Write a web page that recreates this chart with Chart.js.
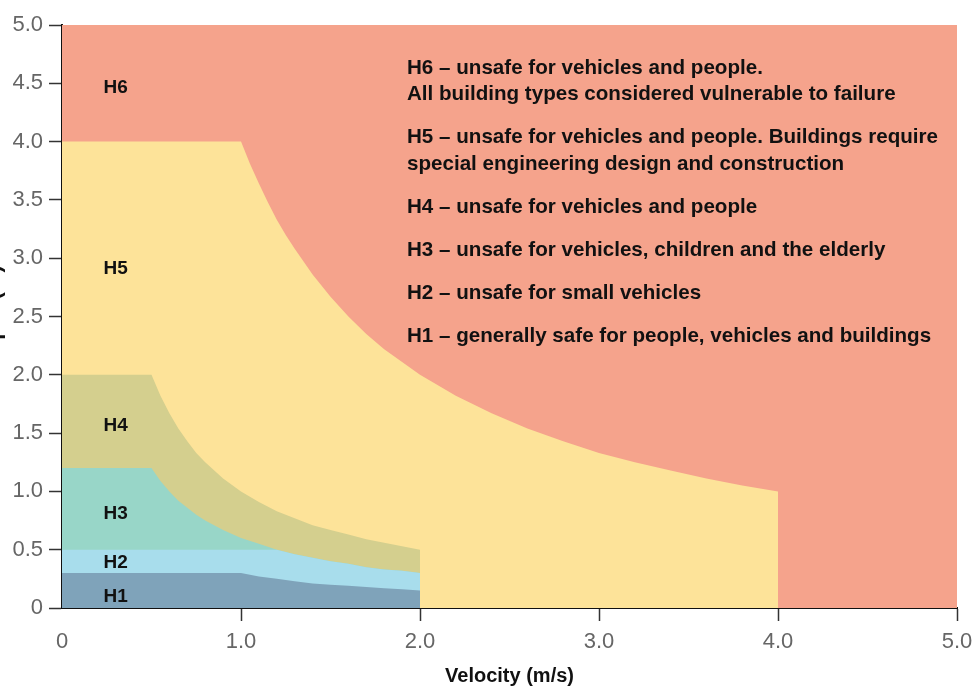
<!DOCTYPE html>
<html>
<head>
<meta charset="utf-8">
<script src="https://cdn.jsdelivr.net/npm/chart.js@4/dist/chart.umd.min.js"></script>
<style>
  html, body { margin: 0; padding: 0; background: #fff; overflow: hidden; }
  #wrap { position: absolute; left: -19px; top: 0; width: 993px; height: 690px; }
</style>
</head>
<body>
<div id="wrap"><canvas id="chart"></canvas></div>
<script>
// hazard zone boundaries (velocity m/s -> depth m)
const h1Velocity = [0, 1.0, 1.1, 1.2, 1.3, 1.4, 1.5, 1.6, 1.7, 1.8, 1.9, 2.0, 2.0];
const h1Depth = [0.3, 0.3, 0.27, 0.25, 0.23, 0.21, 0.2, 0.19, 0.18, 0.17, 0.16, 0.15, 0];

const h2Velocity = [0, 1.2, 1.3, 1.4, 1.5, 1.6, 1.7, 1.8, 1.9, 2.0, 2.0];
const h2Depth = [0.5, 0.5, 0.46, 0.43, 0.4, 0.38, 0.35, 0.33, 0.32, 0.3, 0];

const h3Velocity = [0, 0.5, 0.55, 0.6, 0.65, 0.7, 0.75, 0.8, 0.9, 1.0, 1.1, 1.2, 1.3, 1.4, 1.5, 1.6, 1.7, 1.8, 1.9, 2.0, 2.0];
const h3Depth = [1.2, 1.2, 1.09, 1.0, 0.92, 0.86, 0.8, 0.75, 0.67, 0.6, 0.55, 0.5, 0.46, 0.43, 0.4, 0.38, 0.35, 0.33, 0.32, 0.3, 0];

const h4Velocity = [0, 0.5, 0.55, 0.6, 0.65, 0.7, 0.75, 0.8, 0.9, 1.0, 1.1, 1.2, 1.3, 1.4, 1.5, 1.6, 1.7, 1.8, 1.9, 2.0, 2.0];
const h4Depth = [2.0, 2.0, 1.82, 1.67, 1.54, 1.43, 1.33, 1.25, 1.11, 1.0, 0.91, 0.83, 0.77, 0.71, 0.67, 0.63, 0.59, 0.56, 0.53, 0.5, 0];

const h5Velocity = [0, 1.0, 1.05, 1.1, 1.15, 1.2, 1.25, 1.3, 1.4, 1.5, 1.6, 1.7, 1.8, 1.9, 2.0, 2.2, 2.4, 2.6, 2.8, 3.0, 3.2, 3.4, 3.6, 3.8, 4.0, 4.0];
const h5Depth = [4.0, 4.0, 3.81, 3.64, 3.48, 3.33, 3.2, 3.08, 2.86, 2.67, 2.5, 2.35, 2.22, 2.11, 2.0, 1.82, 1.67, 1.54, 1.43, 1.33, 1.25, 1.18, 1.11, 1.05, 1.0, 0];

const h6Velocity = [0, 5];
const h6Depth = [5, 5];

const zoneNames = ["H1", "H2", "H3", "H4", "H5", "H6"];
const zoneColors = ["#7fa3ba", "#a8ddec", "#98d6c8", "#d4cf8e", "#fde399", "#f5a38c"];

// where the zone names sit (velocity, depth)
const zoneLabelVelocity = [0.3, 0.3, 0.3, 0.3, 0.3, 0.3];
const zoneLabelDepth = [0.1, 0.39, 0.81, 1.56, 2.91, 4.46];

const legendItems = [
  ["H6 \u2013 unsafe for vehicles and people.", "All building types considered vulnerable to failure"],
  ["H5 \u2013 unsafe for vehicles and people. Buildings require", "special engineering design and construction"],
  ["H4 \u2013 unsafe for vehicles and people"],
  ["H3 \u2013 unsafe for vehicles, children and the elderly"],
  ["H2 \u2013 unsafe for small vehicles"],
  ["H1 \u2013 generally safe for people, vehicles and buildings"]
];

const OFF = 19;
const font = '"Liberation Sans", Arial, sans-serif';

function points(vs, ds) {
  return vs.map((v, i) => ({ x: v, y: ds[i] }));
}

const zones = [
  [h1Velocity, h1Depth],
  [h2Velocity, h2Depth],
  [h3Velocity, h3Depth],
  [h4Velocity, h4Depth],
  [h5Velocity, h5Depth],
  [h6Velocity, h6Depth]
];

// first dataset is drawn on top, so H1 comes first
const datasets = zones.map((z, i) => ({
  label: zoneNames[i],
  data: points(z[0], z[1]),
  fill: "origin",
  backgroundColor: zoneColors[i],
  borderColor: "transparent",
  borderWidth: 0,
  pointRadius: 0,
  tension: 0
}));

const textPlugin = {
  id: "zoneText",
  afterDatasetsDraw(chart) {
    const { ctx, scales, chartArea } = chart;
    ctx.save();
    ctx.fillStyle = "#111";
    ctx.textAlign = "center";
    ctx.textBaseline = "middle";
    ctx.font = "bold 19px " + font;
    zoneNames.forEach((name, i) => {
      ctx.fillText(name, scales.x.getPixelForValue(zoneLabelVelocity[i]), scales.y.getPixelForValue(zoneLabelDepth[i]));
    });

    ctx.textAlign = "left";
    ctx.font = "bold 20.6px " + font;
    let y = chartArea.top + 43;
    const x = chartArea.left + 345;
    legendItems.forEach(lines => {
      lines.forEach(line => {
        ctx.fillText(line, x, y);
        y += 26.5;
      });
      y += 16.5;
    });
    ctx.restore();
  }
};

new Chart(document.getElementById("chart"), {
  type: "line",
  data: { datasets: datasets },
  options: {
    responsive: true,
    maintainAspectRatio: false,
    animation: false,
    layout: { padding: { top: 25, right: 17, bottom: 0, left: 0 } },
    plugins: {
      legend: { display: false },
      tooltip: { enabled: false }
    },
    scales: {
      x: {
        type: "linear",
        min: 0,
        max: 5,
        afterFit: s => { s.height = 82; s.paddingRight = 0; s.paddingLeft = 0; },
        ticks: {
          stepSize: 1,
          padding: 8,
          color: "#666",
          font: { family: font, size: 22 },
          maxRotation: 0,
          callback: v => v === 0 ? "0" : v.toFixed(1)
        },
        grid: {
          drawOnChartArea: false,
          tickLength: 13,
          tickWidth: 1.5,
          tickColor: c => c.tick && c.tick.value === 0 ? "transparent" : "#333"
        },
        border: { display: true, color: "#111", width: 2 },
        title: {
          display: true,
          text: "Velocity (m/s)",
          color: "#111",
          font: { family: font, size: 20, weight: "bold" },
          padding: { top: 0, bottom: 2 }
        }
      },
      y: {
        min: 0,
        max: 5,
        afterFit: s => { s.width = 62 + OFF; },
        ticks: {
          stepSize: 0.5,
          padding: 6,
          color: "#666",
          font: { family: font, size: 22 },
          callback: v => v === 0 ? "0" : v.toFixed(1)
        },
        grid: {
          drawOnChartArea: false,
          tickLength: 13,
          tickWidth: 1.5,
          tickColor: "#333"
        },
        border: { display: true, color: "#111", width: 2 },
        title: {
          display: true,
          text: "Depth (m)",
          color: "#111",
          font: { family: font, size: 22, weight: "bold" },
          padding: { top: 0, bottom: 0 }
        }
      }
    }
  },
  plugins: [textPlugin]
});
</script>
</body>
</html>
